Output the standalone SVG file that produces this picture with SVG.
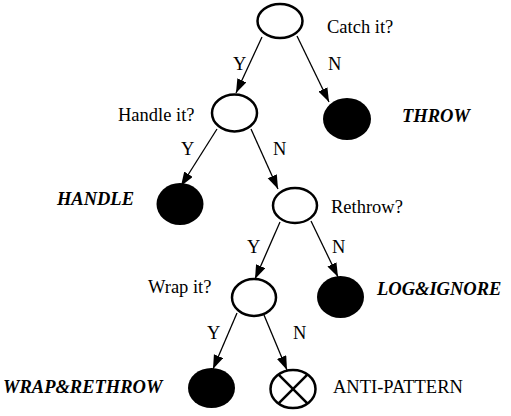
<svg xmlns="http://www.w3.org/2000/svg" width="511" height="416" viewBox="0 0 511 416" font-family="Liberation Serif, Times New Roman, Times, serif" font-size="18.5">
<style>
.node-o{fill:#fff;stroke:#000;stroke-width:2.5}
.node-f{fill:#000;stroke:none}
.edge{stroke:#000;stroke-width:1.3;fill:none;marker-end:url(#arr)}
.out{font-weight:bold;font-style:italic}
</style>
<defs>
<marker id="arr" markerUnits="userSpaceOnUse" markerWidth="15" markerHeight="11" refX="14" refY="5" orient="auto">
<path d="M0,0 L14,5 L0,10 z" fill="#000"/>
</marker>
</defs>
<rect width="511" height="416" fill="#fff"/>
<g id="connectors">
<line class="edge" x1="262" y1="37" x2="236" y2="93"/>
<line class="edge" x1="297" y1="36" x2="329" y2="102"/>
<line class="edge" x1="217" y1="129" x2="181" y2="186"/>
<line class="edge" x1="251" y1="129" x2="278" y2="189"/>
<line class="edge" x1="280" y1="222" x2="255" y2="279"/>
<line class="edge" x1="311" y1="221" x2="338" y2="277"/>
<line class="edge" x1="237" y1="313" x2="213" y2="369"/>
<line class="edge" x1="264" y1="315" x2="287" y2="370"/>
<text x="233" y="70">Y</text>
<text x="328" y="70">N</text>
<text x="181" y="155">Y</text>
<text x="273" y="155">N</text>
<text x="247" y="253">Y</text>
<text x="332" y="253">N</text>
<text x="207" y="339">Y</text>
<text x="293" y="339">N</text>
</g>
<g id="catch">
<ellipse class="node-o" cx="280" cy="21" rx="22.5" ry="17"/>
<text x="327" y="33">Catch it?</text>
</g>
<g id="handleq">
<ellipse class="node-o" cx="234.5" cy="113" rx="22.5" ry="18.5"/>
<text x="118" y="121">Handle it?</text>
</g>
<g id="throw">
<ellipse class="node-f" cx="347" cy="119" rx="24" ry="21"/>
<text class="out" x="402" y="122">THROW</text>
</g>
<g id="handle">
<ellipse class="node-f" cx="180" cy="204" rx="23.5" ry="21"/>
<text class="out" x="134" y="205" text-anchor="end">HANDLE</text>
</g>
<g id="rethrowq">
<ellipse class="node-o" cx="295" cy="205.5" rx="22" ry="17.5"/>
<text x="331" y="213">Rethrow?</text>
</g>
<g id="wrapq">
<ellipse class="node-o" cx="254" cy="297.5" rx="22" ry="18.5"/>
<text x="148" y="293">Wrap it?</text>
</g>
<g id="logignore">
<ellipse class="node-f" cx="340.5" cy="297" rx="23.5" ry="21"/>
<text class="out" x="377" y="295">LOG&amp;IGNORE</text>
</g>
<g id="wraprethrow">
<ellipse class="node-f" cx="211.5" cy="388" rx="23.5" ry="20"/>
<text class="out" x="3" y="393">WRAP&amp;RETHROW</text>
</g>
<g id="antipattern">
<ellipse class="node-o" cx="293" cy="389" rx="22.5" ry="19"/>
<line x1="278.4" y1="374.4" x2="307.6" y2="403.6" stroke="#000" stroke-width="2.5"/>
<line x1="278.4" y1="403.6" x2="307.6" y2="374.4" stroke="#000" stroke-width="2.5"/>
<text x="333" y="393">ANTI-PATTERN</text>
</g>
</svg>
